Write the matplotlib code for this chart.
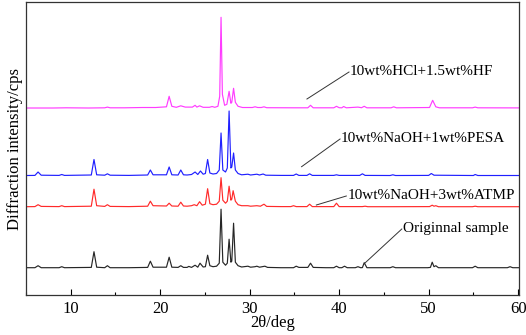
import matplotlib
matplotlib.use("Agg")
import matplotlib.pyplot as plt
from matplotlib.ticker import MultipleLocator

plt.rcParams["font.family"] = ["Liberation Serif", "DejaVu Serif"]

# (2theta, intensity above own baseline)
original = [(5.0, 0.5), (6.0, 0.5), (6.35, 2.5), (6.7, 0.5), (8.7, 0.5), (9.0, 1.5), (9.3, 0.5),
            (12.3, 0.8), (12.6, 16.5), (12.9, 1.0), (13.8, 0.5), (14.1, 2.5), (14.4, 0.5), (16.5, 0.5),
            (18.6, 0.8), (18.9, 7), (19.2, 1.0), (20.7, 1.0), (21.0, 11), (21.3, 1.0), (22.0, 0.8),
            (22.3, 2.5), (22.6, 0.8), (23.0, 0.8), (23.2, 1.8), (23.5, 0.8), (23.9, 3), (24.2, 1.0),
            (24.45, 5), (24.8, 1.2), (25.05, 1.5), (25.3, 13), (25.55, 2.5), (25.9, 1.5), (26.3, 2),
            (26.6, 5), (26.8, 59), (27.0, 6), (27.3, 3), (27.5, 5), (27.7, 29), (27.9, 6), (28.0, 7),
            (28.2, 45), (28.4, 6), (28.7, 2.5), (29.1, 1.2), (29.8, 2), (30.1, 1.0), (30.6, 1.5),
            (30.8, 2), (31.1, 1.0), (31.7, 2), (32.0, 0.8), (33.5, 0.5), (34.9, 0.5), (35.2, 2),
            (35.5, 0.8), (36.5, 0.8), (36.8, 5), (37.1, 0.8), (38.5, 0.5), (39.4, 0.5), (39.7, 2),
            (40.0, 0.5), (40.3, 0.5), (40.6, 2), (40.9, 0.5), (41.8, 0.5), (42.1, 1.5), (42.4, 0.5),
            (42.6, 0.6), (42.8, 5.5), (43.1, 0.5), (45.7, 0.5), (46.0, 1.5), (46.3, 0.5), (49.9, 0.5),
            (50.2, 0.8), (50.4, 6), (50.6, 1.5), (50.8, 2.5), (51.1, 0.5), (54.9, 0.5), (55.2, 2),
            (55.5, 0.5), (58.8, 0.5), (59.1, 1.5), (59.4, 0.5), (60.1, 0.5)]

atmp = [(5.0, 0.5), (6.0, 0.6), (6.35, 2.5), (6.7, 0.8), (8.7, 0.6), (9.0, 1.5), (9.3, 0.6),
        (12.3, 1.0), (12.6, 18), (12.9, 1.5), (13.8, 0.8), (14.1, 2.5), (14.4, 0.8), (16.5, 0.6),
        (18.6, 1.0), (18.9, 6), (19.2, 1.5), (20.7, 1.2), (21.0, 4), (21.3, 1.2), (22.0, 1.0),
        (22.3, 5), (22.6, 1.2), (23.0, 1.0), (23.5, 1.5), (23.8, 2.5), (24.1, 1.5), (24.4, 5.5),
        (24.7, 2.0), (25.05, 3), (25.3, 18.5), (25.55, 3.5), (25.9, 2.5), (26.3, 3), (26.6, 6),
        (26.8, 29.5), (27.0, 7), (27.3, 4), (27.5, 6), (27.7, 21), (27.9, 7), (28.0, 8),
        (28.15, 16.5), (28.4, 6), (28.7, 2.5), (29.1, 1.5), (29.8, 1.5), (30.1, 1.0), (30.8, 1.5),
        (31.2, 1.0), (31.6, 3), (31.9, 0.8), (33.5, 0.6), (34.6, 0.6), (34.9, 1.5), (35.2, 0.6),
        (36.4, 0.6), (36.7, 3), (37.0, 0.6), (38.5, 0.6), (39.4, 0.6), (39.7, 4), (40.0, 0.6),
        (42.6, 0.6), (42.9, 1.0), (43.2, 0.5), (45.7, 0.5), (50.1, 0.6), (50.4, 2), (50.6, 1.0),
        (50.8, 1.5), (51.1, 0.5), (54.9, 0.5), (55.2, 1.0), (55.5, 0.5), (60.1, 0.5)]

pesa = [(5.0, 0.5), (6.0, 0.6), (6.35, 4), (6.7, 0.8), (8.7, 0.6), (9.0, 1.5), (9.3, 0.6),
        (12.3, 1.0), (12.6, 16.5), (12.9, 1.2), (13.8, 0.8), (14.1, 2.2), (14.4, 0.8), (16.5, 0.6),
        (18.6, 1.0), (18.9, 6), (19.2, 1.2), (20.7, 1.2), (21.0, 9), (21.3, 1.2), (22.0, 1.0),
        (22.3, 6), (22.6, 1.2), (23.0, 1.0), (23.5, 1.5), (23.9, 4), (24.2, 1.5), (24.5, 5),
        (24.8, 1.8), (25.05, 2.5), (25.3, 16.5), (25.55, 3), (25.9, 2), (26.3, 2.5), (26.6, 6),
        (26.8, 43), (27.0, 6), (27.3, 4), (27.5, 8), (27.7, 65), (27.9, 8), (28.0, 9), (28.2, 23),
        (28.4, 6), (28.7, 2.5), (29.1, 1.2), (29.8, 1.8), (30.1, 1.0), (30.8, 1.8), (31.1, 1.0),
        (31.5, 2), (31.8, 0.8), (33.5, 0.6), (34.9, 0.6), (35.2, 2), (35.5, 0.6), (36.4, 0.6),
        (36.7, 2.2), (37.0, 0.6), (39.4, 0.6), (39.7, 1.2), (40.0, 0.6), (42.3, 0.6), (42.6, 2.2),
        (42.9, 0.6), (45.7, 0.5), (46.0, 1.2), (46.3, 0.5), (50.0, 0.6), (50.3, 2.5), (50.6, 0.8),
        (55.0, 0.5), (55.2, 1.5), (55.5, 0.5), (60.1, 0.5)]

hcl_hf = [(5.0, 0.3), (8.0, 0.3), (9.5, 0.5), (12.0, 0.3), (13.8, 0.5), (14.1, 1.2), (14.4, 0.5),
          (16.0, 0.5), (18.0, 0.8), (19.5, 0.8), (20.7, 1.5), (21.0, 12), (21.3, 2), (21.8, 1.0),
          (22.3, 2.5), (22.8, 1.2), (23.6, 1.2), (23.9, 3), (24.1, 1.2), (24.4, 2.5), (24.8, 1.0),
          (25.5, 1.0), (25.8, 1.8), (26.1, 1.0), (26.45, 2), (26.65, 12), (26.8, 91), (26.95, 14),
          (27.2, 3), (27.45, 4), (27.7, 17), (27.9, 5), (28.0, 6), (28.2, 20), (28.4, 6),
          (28.7, 2), (29.2, 0.8), (30.3, 0.8), (30.6, 1.5), (30.9, 0.8), (31.3, 0.8), (31.6, 1.5),
          (31.9, 0.6), (35.0, 0.5), (36.5, 0.5), (36.8, 3), (37.1, 0.5), (39.4, 0.5), (39.7, 2),
          (40.0, 0.6), (40.3, 0.5), (40.5, 1.8), (40.8, 0.5), (42.1, 1.2), (42.5, 0.6), (42.8, 2),
          (43.1, 0.5), (45.8, 0.5), (46.1, 1.5), (46.4, 0.5), (50.1, 0.8), (50.45, 8), (50.8, 1.5),
          (51.2, 0.5), (54.9, 0.5), (55.2, 1.2), (55.5, 0.5), (60.1, 0.4)]

labels = ["Originnal sample", "10wt%NaOH+3wt%ATMP", "10wt%NaOH+1wt%PESA", "10wt%HCl+1.5wt%HF"]

# stacking offsets, colours and annotation layout
offsets = [26.8, 87.8, 119.0, 186.7]
colors = ["#262626", "#ff2a2a", "#2020ff", "#ff3cff"]
text_pos = [(47.1, 67), (40.9, 100), (40.2, 157), (41.2, 224)]
line_start = [(42.85, 31.7), (37.45, 90), (35.8, 128.3), (36.4, 196)]

fig = plt.figure(figsize=(5.26, 3.35), dpi=100)
ax = fig.add_axes([0.0494, 0.1194, 0.9373, 0.8746])

for data, off, c in zip([original, atmp, pesa, hcl_hf], offsets, colors):
    tt = [p[0] for p in data]
    inten = [p[1] + off for p in data]
    ax.plot(tt, inten, color=c, lw=0.85)

for lab, (tx, ty), (sx, sy) in zip(labels, text_pos, line_start):
    ax.plot([sx, tx - 0.1], [sy, ty - 1], color="#333333", lw=0.7)
    ax.text(tx, ty, lab, fontsize=11, ha="left", va="center")

ax.set_xlim(5, 60.1)
ax.set_ylim(0, 293)
ax.set_yticks([])
ax.xaxis.set_major_locator(MultipleLocator(10))
ax.xaxis.set_minor_locator(MultipleLocator(5))
ax.tick_params(axis="x", which="major", direction="in", length=4, width=0.8, labelsize=12, pad=4)
ax.tick_params(axis="x", which="minor", direction="in", length=2, width=0.8)
for s in ax.spines.values():
    s.set_linewidth(0.9)
    s.set_color("#333333")
ax.set_xlabel("2θ/deg", fontsize=12, labelpad=-1)
ax.set_ylabel("Diffraction intensity/cps", fontsize=12, labelpad=2)

fig.savefig("out.png", dpi=100)
